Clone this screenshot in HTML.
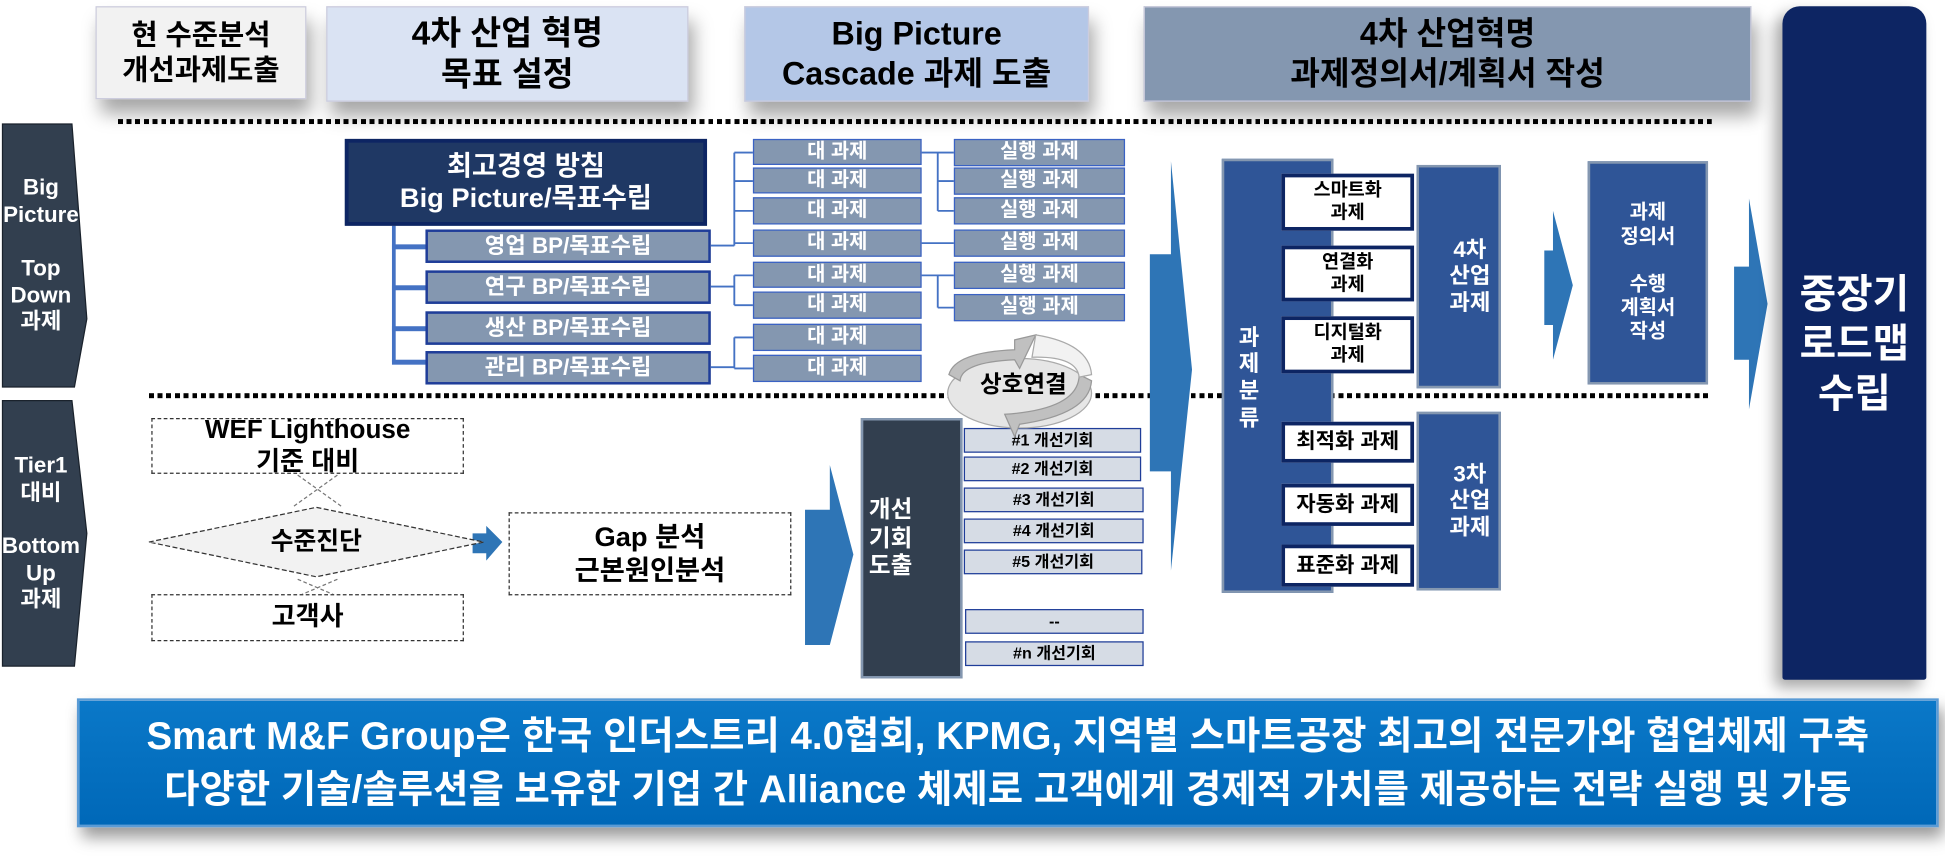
<!DOCTYPE html>
<html><head><meta charset="utf-8">
<style>
html,body{margin:0;padding:0;background:#fff;overflow:hidden;}
#w{position:relative;width:1568px;height:699px;transform:scale(1.2404);transform-origin:0 0;font-family:"Liberation Sans","Noto Sans CJK KR",sans-serif;font-weight:bold;}
.a{position:absolute;box-sizing:border-box;display:flex;align-items:center;justify-content:center;text-align:center;line-height:1.2;}
.hd{color:#000;font-size:25px;box-shadow:4px 12px 14px rgba(0,0,0,.35);border:1px solid #ccd;}
.bp{background:#8497b0;border:2px solid #1f3d99;color:#fff;font-size:18px;}
.dg{background:#8497b0;border:1.5px solid #3a62c4;color:#fff;font-size:16px;}
.gi{background:#d6dce5;border:1.5px solid #1f3d99;color:#000;font-size:13px;}
.wb{background:#fff;border:3px solid #0d2563;color:#000;font-size:15px;}
.wb2{background:#fff;border:3px solid #0d2563;color:#000;font-size:17px;}
.db{border:1.5px dashed #333;background:#fff;color:#000;}
.dot{position:absolute;height:4px;background:repeating-linear-gradient(90deg,#000 0 4px,transparent 4px 7px);}
.ln{position:absolute;background:#4472c4;}
</style></head><body><div id="w">

<!-- header -->
<div class="a hd" style="left:77px;top:5px;width:170px;height:75px;background:#f2f2f2;font-size:23px;">현 수준분석<br>개선과제도출</div>
<div class="a hd" style="left:263px;top:5px;width:292px;height:77px;background:#dae3f3;font-size:27px;">4차 산업 혁명<br>목표 설정</div>
<div class="a hd" style="left:600px;top:5px;width:278px;height:77px;background:#b4c7e7;font-size:26px;">Big Picture<br>Cascade 과제 도출</div>
<div class="a hd" style="left:922px;top:5px;width:490px;height:77px;background:#8497b0;font-size:26px;">4차 산업혁명<br>과제정의서/계획서 작성</div>

<div class="dot" style="left:95px;top:96px;width:1285px;"></div>
<div class="dot" style="left:120px;top:317px;width:1260px;"></div>

<!-- left chevrons -->
<svg style="position:absolute;left:0;top:0" width="100" height="560">
<polygon points="2,100 58,100 70,257 60,312 2,312" fill="#323f4f" stroke="#1a222c"/>
<polygon points="2,323 58,323 70,430 60,537 2,537" fill="#323f4f" stroke="#1a222c"/>
</svg>
<div class="a" style="left:2px;top:100px;width:62px;height:212px;color:#fff;font-size:18px;">Big<br>Picture<br><br>Top<br>Down<br>과제</div>
<div class="a" style="left:2px;top:323px;width:62px;height:214px;color:#fff;font-size:18px;">Tier1<br>대비<br><br>Bottom<br>Up<br>과제</div>

<!-- top tree -->
<div class="ln" style="left:316px;top:182px;width:3px;height:110px;"></div>
<div class="ln" style="left:316px;top:197px;width:28px;height:4px;"></div>
<div class="ln" style="left:316px;top:230px;width:28px;height:4px;"></div>
<div class="ln" style="left:316px;top:263px;width:28px;height:4px;"></div>
<div class="ln" style="left:316px;top:290px;width:28px;height:4px;"></div>
<div class="a" style="left:278px;top:112px;width:292px;height:70px;background:#1f3864;border:3px solid #0d2563;color:#fff;font-size:22px;">최고경영 방침<br>Big Picture/목표수립</div>
<div class="a bp" style="left:343px;top:185px;width:230px;height:27px;">영업 BP/목표수립</div>
<div class="a bp" style="left:343px;top:218px;width:230px;height:27px;">연구 BP/목표수립</div>
<div class="a bp" style="left:343px;top:251px;width:230px;height:27px;">생산 BP/목표수립</div>
<div class="a bp" style="left:343px;top:283px;width:230px;height:27px;">관리 BP/목표수립</div>

<svg style="position:absolute;left:0;top:0" width="960" height="320">
<g stroke="#4472c4" stroke-width="1.5" fill="none">
<path d="M573,198 H592 M592,123 V198 M592,123 H607 M592,146 H607 M592,170 H607 M592,196 H607"/>
<path d="M573,231 H592 M592,222 V246 M592,222 H607 M592,246 H607"/>
<path d="M573,296 H592 M592,272 V297 M592,272 H607 M592,297 H607"/>
<path d="M743,123 H756 M756,123 V170 M756,123 H769 M756,146 H769 M756,170 H769"/>
<path d="M743,196 H769"/>
<path d="M743,222 H756 M756,222 V248 M756,222 H769 M756,248 H769"/>
</g></svg>
<div class="a dg" style="left:607px;top:112px;width:136px;height:21px;">대 과제</div>
<div class="a dg" style="left:607px;top:135px;width:136px;height:21px;">대 과제</div>
<div class="a dg" style="left:607px;top:159px;width:136px;height:22px;">대 과제</div>
<div class="a dg" style="left:607px;top:185px;width:136px;height:22px;">대 과제</div>
<div class="a dg" style="left:607px;top:211px;width:136px;height:21px;">대 과제</div>
<div class="a dg" style="left:607px;top:235px;width:136px;height:22px;">대 과제</div>
<div class="a dg" style="left:607px;top:261px;width:136px;height:22px;">대 과제</div>
<div class="a dg" style="left:607px;top:286px;width:136px;height:22px;">대 과제</div>
<div class="a dg" style="left:769px;top:112px;width:138px;height:22px;">실행 과제</div>
<div class="a dg" style="left:769px;top:135px;width:138px;height:22px;">실행 과제</div>
<div class="a dg" style="left:769px;top:159px;width:138px;height:22px;">실행 과제</div>
<div class="a dg" style="left:769px;top:185px;width:138px;height:22px;">실행 과제</div>
<div class="a dg" style="left:769px;top:211px;width:138px;height:22px;">실행 과제</div>
<div class="a dg" style="left:769px;top:237px;width:138px;height:22px;">실행 과제</div>

<!-- arrows -->
<svg style="position:absolute;left:0;top:0" width="1568" height="560">
<polygon points="927,205 944,205 944,130 961,298 944,460 944,380 927,380" fill="#2e75b6"/>
<polygon points="649,411 669,411 669,375 688,447 669,520 669,520 649,520" fill="#2e75b6"/>
<polygon points="1245,202 1252,202 1252,170 1268,230 1252,290 1252,262 1245,262" fill="#2e75b6"/>
<polygon points="1398,215 1410,215 1410,160 1425,245 1410,330 1410,290 1398,290" fill="#2e75b6"/>
<polygon points="381,430 392,430 392,424 405,437 392,452 392,446 381,446" fill="#2e75b6"/>
</svg>

<!-- bottom left -->
<div class="a db" style="left:122px;top:337px;width:252px;height:45px;font-size:21px;">WEF Lighthouse<br>기준 대비</div>
<svg style="position:absolute;left:0;top:0" width="420" height="560">
<g stroke="#777" stroke-width="1" stroke-dasharray="3,2" fill="none">
<path d="M240,383 L275,408 M272,383 L237,408 M240,467 L275,482 M272,467 L237,482"/>
</g>
<polygon points="120,437 255,409 390,437 255,465" fill="#f2f2f2" stroke="#333" stroke-width="1" stroke-dasharray="4,2"/>
</svg>
<div class="a" style="left:195px;top:423px;width:120px;height:28px;font-size:20px;color:#000;">수준진단</div>
<div class="a db" style="left:122px;top:479px;width:252px;height:38px;font-size:21px;">고객사</div>
<div class="a db" style="left:410px;top:413px;width:228px;height:67px;font-size:22px;">Gap 분석<br>근본원인분석</div>

<div class="a" style="left:694px;top:337px;width:82px;height:210px;background:#323f4f;border:2px solid #8497b0;"></div>
<div class="a" style="left:696px;top:380px;width:44px;height:110px;color:#fff;font-size:19px;">개선<br>기회<br>도출</div>
<div class="a gi" style="left:777px;top:345px;width:143px;height:20px;">#1 개선기회</div>
<div class="a gi" style="left:777px;top:368px;width:143px;height:20px;">#2 개선기회</div>
<div class="a gi" style="left:777px;top:393px;width:145px;height:20px;">#3 개선기회</div>
<div class="a gi" style="left:777px;top:418px;width:145px;height:20px;">#4 개선기회</div>
<div class="a gi" style="left:777px;top:443px;width:144px;height:20px;">#5 개선기회</div>
<div class="a gi" style="left:778px;top:491px;width:144px;height:20px;">--</div>
<div class="a gi" style="left:778px;top:517px;width:144px;height:20px;">#n 개선기회</div>

<!-- cycle icon -->
<svg style="position:absolute;left:760px;top:262px" width="140" height="95">
<ellipse cx="62" cy="55" rx="58" ry="28" fill="#e6e6e6" stroke="#aaa"/>
<path d="M5,40 Q10,22 58,20 L58,12 L75,8 L62,35 L58,28 Q15,30 14,45 Z" fill="#c0c0c0" stroke="#999"/>
<path d="M120,45 Q118,72 62,80 L58,90 L50,72 Q110,68 110,40 Z" fill="#c0c0c0" stroke="#999"/>
<path d="M75,8 Q118,15 120,40 L110,42 Q108,25 72,26 Z" fill="#f2f2f2" stroke="#aaa"/>
</svg>
<div class="a" style="left:765px;top:297px;width:120px;height:28px;font-size:19px;color:#000;">상호연결</div>

<!-- right panel -->
<div class="a" style="left:985px;top:128px;width:90px;height:350px;background:#2f5597;border:2px solid #8497b0;"></div>
<div class="a" style="left:994px;top:255px;width:26px;height:100px;color:#fff;font-size:18px;">과<br>제<br>분<br>류</div>
<div class="a" style="left:1142px;top:133px;width:68px;height:180px;background:#2f5597;border:2px solid #8497b0;color:#fff;font-size:18px;padding-left:18px;">4차<br>산업<br>과제</div>
<div class="a" style="left:1142px;top:332px;width:68px;height:144px;background:#2f5597;border:2px solid #8497b0;color:#fff;font-size:18px;padding-left:18px;">3차<br>산업<br>과제</div>
<div class="a wb" style="left:1033px;top:140px;width:107px;height:46px;">스마트화<br>과제</div>
<div class="a wb" style="left:1033px;top:198px;width:107px;height:45px;">연결화<br>과제</div>
<div class="a wb" style="left:1033px;top:255px;width:107px;height:46px;">디지털화<br>과제</div>
<div class="a wb2" style="left:1033px;top:340px;width:107px;height:33px;">최적화 과제</div>
<div class="a wb2" style="left:1033px;top:390px;width:107px;height:34px;">자동화 과제</div>
<div class="a wb2" style="left:1033px;top:439px;width:107px;height:34px;">표준화 과제</div>
<div class="a" style="left:1280px;top:130px;width:97px;height:180px;background:#2f5597;border:2px solid #8497b0;color:#fff;font-size:16px;">과제<br>정의서<br><br>수행<br>계획서<br>작성</div>

<div class="a" style="left:1437px;top:5px;width:116px;height:543px;background:#0d2563;border-radius:14px 14px 2px 2px;box-shadow:-6px 6px 12px rgba(0,0,0,.35);color:#fff;font-size:32px;line-height:1.25;">중장기<br>로드맵<br>수립</div>

<!-- banner -->
<div class="a" style="left:62px;top:563px;width:1501px;height:104px;background:linear-gradient(#0a78c8,#0068b8);border:2px solid #5b9bd5;box-shadow:4px 8px 12px rgba(0,0,0,.4);color:#fff;font-size:31px;line-height:1.4;white-space:nowrap;">Smart M&amp;F Group은 한국 인더스트리 4.0협회, KPMG, 지역별 스마트공장 최고의 전문가와 협업체제 구축<br>다양한 기술/솔루션을 보유한 기업 간 Alliance 체제로 고객에게 경제적 가치를 제공하는 전략 실행 및 가동</div>

</div></body></html>
